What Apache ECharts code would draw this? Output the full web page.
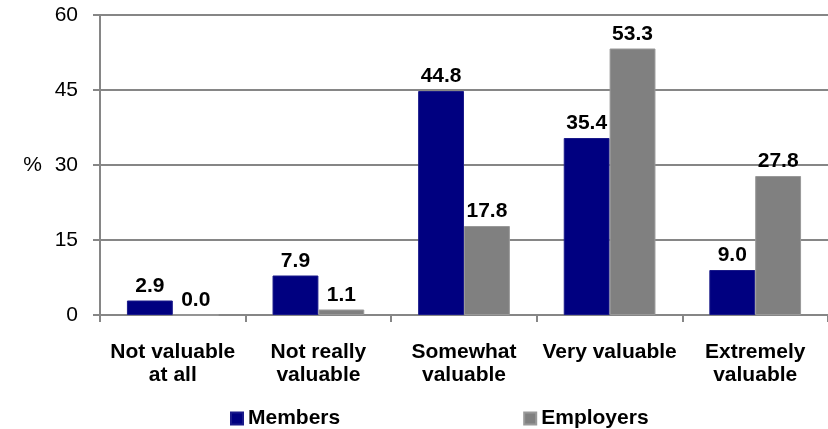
<!DOCTYPE html>
<html><head><meta charset="utf-8">
<script src="https://cdn.jsdelivr.net/npm/echarts@6/dist/echarts.min.js"></script>
<style>html,body{margin:0;padding:0;background:#fff}#c{width:828px;height:429px}</style>
</head><body><div id="c"></div>
<script>
const categories = ["Not valuable\nat all", "Not really\nvaluable", "Somewhat\nvaluable", "Very valuable", "Extremely\nvaluable"];
const members = [2.9, 7.9, 44.8, 35.4, 9.0];
const employers = [0.0, 1.1, 17.8, 53.3, 27.8];
const yTicks = [0, 15, 30, 45, 60];

const font = "'Liberation Sans', Arial, sans-serif";
const chart = echarts.init(document.getElementById('c'));
const lbl = {show: true, position: 'top', distance: 4, fontFamily: font, fontWeight: 'bold', fontSize: 21, color: '#000',
  formatter: p => p.value.toFixed(1)};
chart.setOption({
  animation: false,
  grid: {left: 100, right: 0, top: 15, bottom: 114, containLabel: false},
  legend: {
    top: 403, left: 225, itemWidth: 12, itemHeight: 12, itemGap: 183,
    icon: 'rect',
    textStyle: {fontFamily: font, fontWeight: 'bold', fontSize: 21, color: '#000', padding: [0, 0, 0, 0]},
    data: ['Members', 'Employers']
  },
  xAxis: {
    type: 'category', data: categories,
    axisLine: {lineStyle: {color: '#868686', width: 2}},
    axisTick: {show: true, length: 7, lineStyle: {color: '#868686', width: 2}},
    axisLabel: {margin: 26, fontFamily: font, fontWeight: 'bold', fontSize: 21, color: '#000', lineHeight: 23, interval: 0}
  },
  yAxis: {
    type: 'value', min: 0, max: 60, interval: 15,
    name: '%', nameLocation: 'middle', nameRotate: 0, nameGap: 58,
    nameTextStyle: {fontFamily: font, fontSize: 21, color: '#000'},
    axisLine: {show: true, lineStyle: {color: '#868686', width: 2}},
    axisTick: {show: true, length: 7, lineStyle: {color: '#868686', width: 2}},
    splitLine: {lineStyle: {color: '#868686', width: 2}},
    axisLabel: {margin: 22, fontFamily: font, fontSize: 21, color: '#000',
      formatter: v => yTicks.includes(v) ? String(v) : ''}
  },
  series: [
    {name: 'Members', type: 'bar', data: members, barGap: '0%', barCategoryGap: '37%',
     itemStyle: {color: '#000080', borderColor: '#1a1a8a', borderWidth: 1}, label: lbl},
    {name: 'Employers', type: 'bar', data: employers, barGap: '0%', barCategoryGap: '37%',
     itemStyle: {color: '#808080', borderColor: '#999999', borderWidth: 1}, label: lbl}
  ]
});
</script></body></html>
